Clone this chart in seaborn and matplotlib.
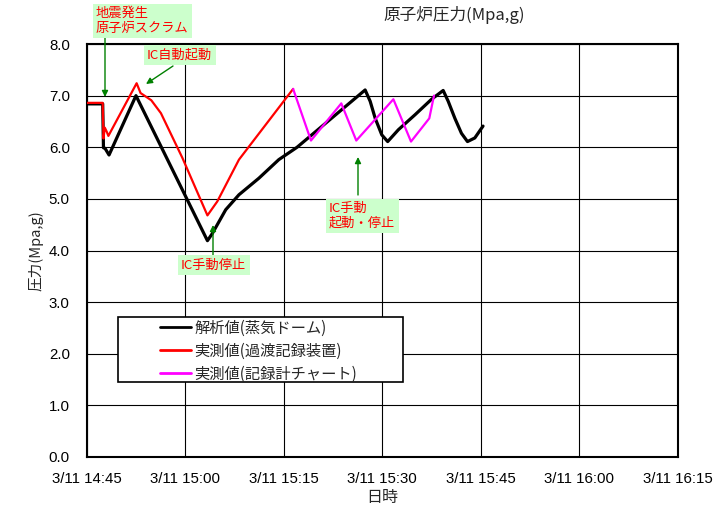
import matplotlib
matplotlib.use("Agg")
import matplotlib.pyplot as plt
import matplotlib.dates as mdates
from matplotlib.patches import Rectangle
import pandas as pd
import seaborn as sns

DAY = "2011-03-11 "

# 解析値(蒸気ドーム)
analysis_times = ["14:45:00", "14:47:28", "14:47:35", "14:47:49", "14:48:26", "14:52:32",
                  "15:03:25", "15:04:10", "15:06:12", "15:08:13", "15:11:15", "15:14:17",
                  "15:17:04", "15:27:26", "15:28:12", "15:28:58", "15:29:58", "15:30:52",
                  "15:32:30", "15:35:02", "15:37:33", "15:39:19", "15:40:05", "15:41:06",
                  "15:42:06", "15:43:01", "15:44:08", "15:45:23"]
analysis_values = [6.84, 6.84, 5.99, 5.98, 5.85, 7.00,
                   4.19, 4.33, 4.79, 5.08, 5.40, 5.76,
                   6.00, 7.11, 6.89, 6.56, 6.24, 6.11,
                   6.34, 6.63, 6.93, 7.10, 6.89, 6.56,
                   6.27, 6.11, 6.18, 6.41]

# 実測値(過渡記録装置)
transient_times = ["14:45:00", "14:47:28", "14:47:35", "14:47:47", "14:48:05", "14:48:20",
                   "14:52:38", "14:53:14", "14:54:52", "14:56:20", "14:59:37", "15:03:25",
                   "15:04:55", "15:08:13", "15:16:28"]
transient_values = [6.86, 6.86, 6.17, 6.38, 6.30, 6.22,
                    7.24, 7.05, 6.91, 6.66, 5.79, 4.68,
                    4.95, 5.76, 7.13]

# 実測値(記録計チャート)
chart_times = ["15:16:28", "15:19:11", "15:23:48", "15:26:05", "15:31:44", "15:34:25",
               "15:37:12", "15:37:55"]
chart_values = [7.13, 6.13, 6.85, 6.13, 6.93, 6.11, 6.56, 7.00]

series_names = ["解析値(蒸気ドーム)", "実測値(過渡記録装置)", "実測値(記録計チャート)"]
series_colors = ["#000000", "#ff0000", "#ff00ff"]
series_widths = [2.3, 1.6, 1.6]

sns.set_style("white")
plt.rcParams["font.family"] = ["Noto Sans CJK JP", "DejaVu Sans"]

W, H = 714, 508
AX_L, AX_R, AX_T, AX_B = 86.5, 677.5, 44, 457
AW, AH = AX_R - AX_L, AX_B - AX_T
fig = plt.figure(figsize=(W / 100, H / 100), dpi=100)
ax = fig.add_axes([AX_L / W, 1 - AX_B / H, AW / W, AH / H])


def frame(times, values):
    return pd.DataFrame({"time": pd.to_datetime([DAY + t for t in times]),
                         "pressure": values})


datasets = [frame(analysis_times, analysis_values),
            frame(transient_times, transient_values),
            frame(chart_times, chart_values)]

for df, name, color, lw in zip(datasets, series_names, series_colors, series_widths):
    sns.lineplot(data=df, x="time", y="pressure", ax=ax, color=color, linewidth=lw,
                 label=name, sort=False, estimator=None, zorder=3)

ax.set_xlim(pd.Timestamp(DAY + "14:45"), pd.Timestamp(DAY + "16:15"))
ax.set_ylim(0, 8)
ax.xaxis.set_major_locator(mdates.MinuteLocator(byminute=[0, 15, 30, 45]))
ax.xaxis.set_major_formatter(mdates.DateFormatter("%-m/%d %H:%M"))
ax.set_yticks([0, 1, 2, 3, 4, 5, 6, 7, 8])
ax.yaxis.set_major_formatter(matplotlib.ticker.FormatStrFormatter("%.1f"))

ax.grid(True, color="black", linewidth=0.8)
ax.set_axisbelow(True)
for sp in ax.spines.values():
    sp.set_color("black")
    sp.set_linewidth(1.5)

tick_font = ["Liberation Sans", "DejaVu Sans"]
ax.tick_params(axis="x", length=0, pad=10.5)
ax.tick_params(axis="y", length=0, pad=12)
for lab in ax.get_xticklabels() + ax.get_yticklabels():
    lab.set_fontfamily(tick_font)
    lab.set_fontsize(10.8)
    lab.set_color("black")

ax.set_xlabel("日時", fontsize=11.5)
ax.xaxis.set_label_coords(0.5, (AX_B - 489) / AH)
ax.set_ylabel("圧力(Mpa,g)", fontsize=10.5)
ax.yaxis.set_label_coords((43 - AX_L) / AW, 0.5)

fig.text(383 / W, 1 - 15 / H, "原子炉圧力(Mpa,g)", ha="left", va="center", fontsize=12)

# legend with its own boxed frame
ax.add_patch(Rectangle(((118 - AX_L) / AW, (AX_B - 382) / AH), 285 / AW, 65 / AH,
                       transform=ax.transAxes, facecolor="white", edgecolor="black",
                       linewidth=1.2, zorder=4))
leg = ax.legend(loc="upper left", bbox_to_anchor=((160 - AX_L) / AW, (AX_B - 319.5) / AH),
                frameon=False, fontsize=11, handlelength=2.0, handletextpad=0.25,
                labelspacing=0.4, borderpad=0, borderaxespad=0)
leg.set_zorder(5)
for h in leg.get_lines():
    h.set_linewidth(2)

# event annotations
box = dict(boxstyle="square,pad=0.25", facecolor="#ccffcc", edgecolor="none")
arrow = dict(arrowstyle="-|>", color="#008000", lw=1.0, mutation_scale=9,
             shrinkA=0, shrinkB=0)


def px(x, y):
    return (x / W, 1 - y / H)


fig.text(*px(96, 21), "地震発生\n原子炉スクラム", ha="left", va="center",
         fontsize=9.5, color="#ff0000", linespacing=1.15, bbox=box)
fig.text(*px(147, 55), "IC自動起動", ha="left", va="center",
         fontsize=9.5, color="#ff0000", bbox=box)
fig.text(*px(181, 265), "IC手動停止", ha="left", va="center",
         fontsize=9.5, color="#ff0000", bbox=box)
fig.text(*px(329, 216), "IC手動\n起動・停止", ha="left", va="center",
         fontsize=9.5, color="#ff0000", linespacing=1.15, bbox=box)

arrows = [((105, 38), (105, 97)), ((173, 66), (146, 84)),
          ((213, 255), (213, 225)), ((358, 195), (358, 157))]
for (x0, y0), (x1, y1) in arrows:
    ax.annotate("", xy=px(x1, y1), xycoords="figure fraction",
                xytext=px(x0, y0), textcoords="figure fraction",
                arrowprops=arrow, annotation_clip=False)

fig.savefig("out.png", dpi=100)
